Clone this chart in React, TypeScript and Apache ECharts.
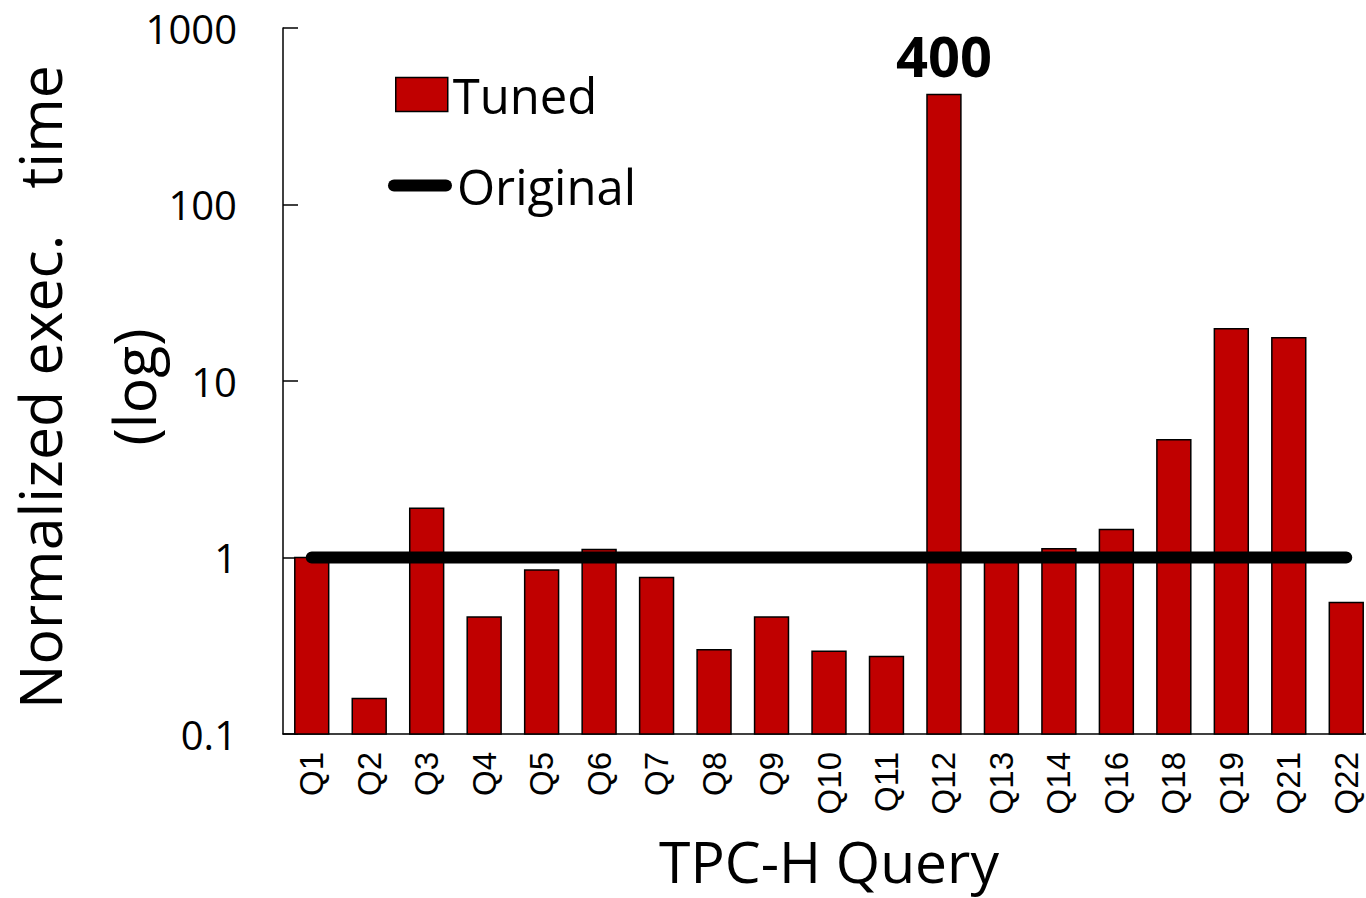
import React, { useEffect, useRef } from "react";
import * as echarts from "echarts";

const categories = ["Q1","Q2","Q3","Q4","Q5","Q6","Q7","Q8","Q9","Q10","Q11","Q12","Q13","Q14","Q16","Q18","Q19","Q21","Q22"];
const tunedValues = [1.0,0.159,1.9,0.46,0.85,1.11,0.77,0.30,0.46,0.294,0.275,420,0.99,1.12,1.44,4.65,19.8,17.6,0.556];
const originalValues = categories.map(() => 1);
const yTicks = [0.1, 1, 10, 100, 1000];
const peakLabelIndex = 11;
const peakLabelText = "400";
const yAxisTitle = "Normalized exec.   time\n(log)";
const xAxisTitle = "TPC-H Query";

export default function App() {
  const ref = useRef<HTMLDivElement>(null);
  useEffect(() => {
    if (!ref.current) return;
    const chart = echarts.init(ref.current, undefined, { renderer: "svg" });
    const sans = "Open Sans";
    const yMin = yTicks[0];
    chart.setOption({
      animation: false,
      backgroundColor: "#ffffff",
      grid: { left: 283, top: 28, width: 1092, bottom: 164, containLabel: false, outerBoundsMode: "none" },
      legend: [
        {
          data: [{ name: "Tuned", icon: "rect", itemStyle: { color: "#C00000", borderColor: "#000", borderWidth: 1.5 } }],
          left: 395, top: 70, padding: 0,
          itemWidth: 52, itemHeight: 34,
          textStyle: { fontFamily: sans, fontSize: 49, color: "#000" },
        },
        {
          data: [{ name: "Original", icon: "path://M6,0 L58,0 A6,6 0 0 1 58,12 L6,12 A6,6 0 0 1 6,0 Z" }],
          left: 388, top: 161, padding: 0,
          itemWidth: 64, itemHeight: 12,
          textStyle: { fontFamily: sans, fontSize: 49, color: "#000" },
        },
      ],
      xAxis: {
        type: "category",
        data: categories,
        axisLine: { lineStyle: { color: "#000", width: 1.5 } },
        axisTick: { show: false },
        axisLabel: { rotate: 90, fontFamily: "Liberation Sans", fontSize: 33, color: "#000", margin: 18, interval: 0 },
        name: xAxisTitle,
        nameLocation: "middle",
        nameGap: 98,
        nameMoveOverlap: false,
        nameTextStyle: { fontFamily: sans, fontSize: 57, color: "#000" },
      },
      yAxis: {
        type: "log",
        logBase: 10,
        min: yTicks[0],
        max: yTicks[yTicks.length - 1],
        axisLine: { show: true, lineStyle: { color: "#000", width: 1.5 } },
        axisTick: { show: true, inside: true, length: 15, lineStyle: { color: "#000", width: 1.5 } },
        splitLine: { show: false },
        axisLabel: { fontFamily: sans, fontSize: 40, color: "#000", margin: 46, formatter: (v: number) => String(v) },
        name: yAxisTitle,
        nameLocation: "middle",
        nameRotate: 90,
        nameGap: 103,
        nameMoveOverlap: false,
        nameTextStyle: { fontFamily: sans, fontSize: 59, color: "#000", lineHeight: 94, padding: [0, 12, 0, 0] },
      },
      series: [
        {
          name: "Tuned",
          type: "custom",
          itemStyle: { color: "#C00000" },
          encode: { x: 0, y: 1 },
          data: tunedValues.map((v, i) => [i, v]),
          renderItem: (params: any, api: any) => {
            const idx = api.value(0);
            const val = api.value(1);
            const top = api.coord([idx, val]);
            const bottom = api.coord([idx, yMin]);
            const w = api.size([1, 0])[0] * 0.59;
            const children: any[] = [
              {
                type: "rect",
                shape: { x: top[0] - w / 2, y: top[1], width: w, height: bottom[1] - top[1] },
                style: { fill: "#C00000", stroke: "#000", lineWidth: 1.5 },
              },
            ];
            if (params.dataIndex === peakLabelIndex) {
              children.push({
                type: "text",
                style: {
                  text: peakLabelText,
                  x: top[0],
                  y: top[1] - 11,
                  align: "center",
                  verticalAlign: "bottom",
                  fontFamily: sans,
                  fontWeight: "bold",
                  fontSize: 56,
                  fill: "#000",
                },
              });
            }
            return { type: "group", children };
          },
        },
        {
          name: "Original",
          type: "line",
          data: originalValues,
          symbol: "none",
          lineStyle: { color: "#000", width: 12, cap: "round" },
          itemStyle: { color: "#000" },
          z: 5,
        },
      ],
    });
    return () => chart.dispose();
  }, []);
  return <div ref={ref} style={{ width: 1366, height: 898, position: "absolute", left: 0, top: 0 }} />;
}
